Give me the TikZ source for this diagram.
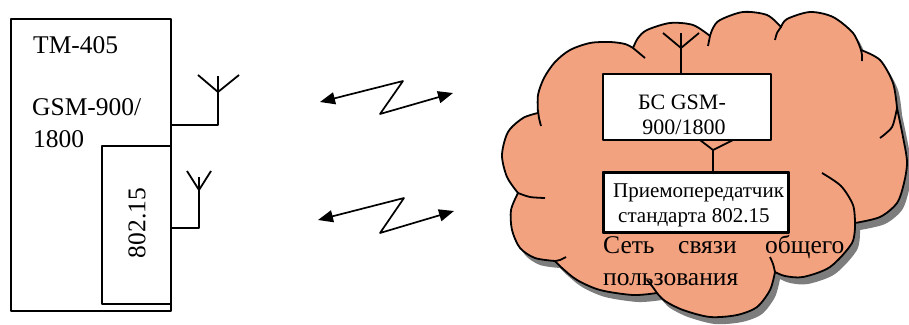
\documentclass[tikz,border=0pt]{standalone}
\usepackage{fontspec}
\setmainfont{Liberation Serif}
\usetikzlibrary{arrows.meta}
\definecolor{cloudfill}{RGB}{243,162,128}
\definecolor{cloudshadow}{RGB}{125,125,125}
\newcommand\bigtxt{\fontsize{25.5}{30}\selectfont}
\newcommand\bstxt{\fontsize{22}{26}\selectfont}
\newcommand\trtxt{\fontsize{21}{25}\selectfont}
\newcommand\cltxt{\fontsize{25.5}{30}\selectfont}
\begin{document}
\begin{tikzpicture}[x=1pt,y=-1pt,line join=round,
  ln/.style={line width=1.8pt},
  box/.style={draw,line width=1.8pt,fill=white,inner sep=0pt},
  zz/.style={line width=1.7pt,{Triangle[length=15pt,width=12pt]}-{Triangle[length=15pt,width=12pt]}},
  lbl/.style={inner sep=0pt,anchor=base west},
  cloudpath/.style={insert path={
    plot[smooth] coordinates {(518,193) (507,177) (502,155) (508,132) (523,118) (538,113)}
    -- plot[smooth] coordinates {(538,113) (538,95) (544,78) (555,62) (570,50) (590,43) (610,42) (625,44) (633,48)}
    -- plot[smooth] coordinates {(633,48) (638,38) (647,30) (670,23) (693,25) (710,36)}
    -- plot[smooth] coordinates {(710,36) (713,28) (720,20) (743,12) (767,15) (781,27)}
    -- plot[smooth] coordinates {(781,27) (787,19) (810,12) (833,17) (853,33) (861,50)}
    -- plot[smooth] coordinates {(861,50) (880,60) (893,83) (897,108)}
    -- plot[smooth] coordinates {(897,108) (903,137) (907,162) (904,183) (897,203) (880,217) (855,223)}
    -- plot[smooth] coordinates {(855,223) (852,243) (830,267) (803,277) (785,276) (775,272)}
    -- plot[smooth] coordinates {(775,272) (770,290) (757,307) (737,315) (710,317) (683,310) (665,301) (657,293)}
    -- plot[smooth] coordinates {(657,293) (633,295) (600,290) (577,280) (562,268) (555,261)}
    -- plot[smooth] coordinates {(555,261) (535,258) (520,248) (512,230) (511,210) (518,193)}
    -- cycle}}
]
\useasboundingbox (0,0) rectangle (909,324);

% ---- cloud ----
\begin{scope}[shift={(5,7)}]
  \fill[cloudshadow,cloudpath];
\end{scope}
\fill[cloudfill,cloudpath];
\draw[ln,cloudpath];
% interior curls
\draw[ln] plot[smooth] coordinates {(538,110) (539,118) (541,126)};
\draw[ln] plot[smooth] coordinates {(633,48) (639,53) (645,58)};
\draw[ln] plot[smooth] coordinates {(710,36) (709,41) (708,46)};
\draw[ln] plot[smooth] coordinates {(781,27) (777,33) (775,40)};
\draw[ln] plot[smooth] coordinates {(861,50) (862,55) (862,61)};
\draw[ln] plot[smooth] coordinates {(897,108) (892,127) (880,138)};
\draw[ln] plot[smooth] coordinates {(855,223) (853,205) (841,186) (822,173)};
\draw[ln] plot[smooth] coordinates {(775,272) (773,264) (770,257)};
\draw[ln] plot[smooth] coordinates {(657,293) (652,286) (647,280)};
\draw[ln] plot[smooth] coordinates {(555,261) (560,260) (566,257)};
\draw[ln] plot[smooth] coordinates {(518,193) (530,197) (545,198)};

% ---- left terminal ----
\node[box,minimum width=160,minimum height=292,anchor=north west] (tm) at (10,18) {};
\node[box,minimum width=69,minimum height=158,anchor=north west] (wpan) at (101,145) {};
\node[lbl,font=\bigtxt] (tmname) at (33,53) {TM-405};
\node[lbl,font=\bigtxt] (gsm1) at (32,115) {GSM-900/};
\node[lbl,font=\bigtxt] (gsm2) at (33,147) {1800};
\node[inner sep=0pt,rotate=90,font=\bigtxt] (wpanlbl) at (137,223) {802.15};

% antennas of terminal
\coordinate (ant1) at (218,92);
\coordinate (ant2) at (199,190);
\draw[ln] (170,125) -- (218,125) -- (218,76);
\draw[ln] (198,75) -- (ant1) -- (239,75);
\draw[ln] (170,228) -- (199,228) -- (199,177);
\draw[ln] (187,171) -- (ant2) -- (211,171);

% ---- radio links ----
\coordinate (z1a) at (320,102);
\coordinate (z1b) at (403,81);
\coordinate (z1c) at (380,114);
\coordinate (z1d) at (453,93);
\coordinate (z2a) at (318,220);
\coordinate (z2b) at (404,198);
\coordinate (z2c) at (380,233);
\coordinate (z2d) at (454,211);
\draw[zz] (z1a) -- (z1b) -- (z1c) -- (z1d);
\draw[zz] (z2a) -- (z2b) -- (z2c) -- (z2d);

% ---- base station ----
\node[box,minimum width=168,minimum height=66,anchor=north west] (bs) at (602,73) {};
\node[inner sep=0pt,anchor=base,font=\bstxt] (bs1) at (682,109) {БС GSM-};
\node[inner sep=0pt,anchor=base,font=\bstxt] (bs2) at (684,134) {900/1800};
\coordinate (bsant) at (681,48);
\draw[ln] (681,73) -- (681,33);
\draw[ln] (663,33) -- (bsant) -- (699,33);

% ---- transceiver ----
\node[box,minimum width=184,minimum height=59,anchor=north west] (tr) at (603,172) {};
\coordinate (trj) at (713,150);
\draw[ln] (700,140) -- (trj) -- (733,140);
\draw[ln] (trj) -- (tr.north -| trj);
\begin{scope}
  \clip (tr.north west) rectangle (tr.south east);
  \node[lbl,font=\trtxt] (tr1) at (613,197) {Приемопередатчик};
  \node[lbl,font=\trtxt] (tr2) at (618,222) {стандарта 802.15};
\end{scope}
\draw[line width=1.8pt] (tr.north west) rectangle (tr.south east);

% ---- network caption ----
\node[lbl,font=\cltxt] (n1) at (603,253) {Сеть};
\node[lbl,font=\cltxt] (n2) at (678,253) {связи};
\node[lbl,font=\cltxt] (n3) at (765,253) {общего};
\node[lbl,font=\cltxt] (n4) at (603,285) {пользования};
\end{tikzpicture}
\end{document}
